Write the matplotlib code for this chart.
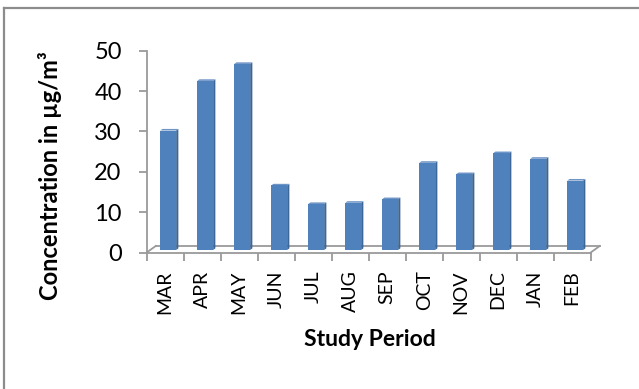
import matplotlib
matplotlib.use("Agg")
import matplotlib.pyplot as plt
from matplotlib.transforms import ScaledTranslation
from matplotlib.patches import Polygon
from matplotlib.lines import Line2D

months = ["MAR", "APR", "MAY", "JUN", "JUL", "AUG", "SEP", "OCT", "NOV", "DEC", "JAN", "FEB"]
concentration = [29.6, 41.9, 46.1, 16.0, 11.4, 11.7, 12.6, 21.6, 18.8, 24.0, 22.6, 17.2]
y_ticks = [0, 10, 20, 30, 40, 50]

W_PX, H_PX, DPI = 639, 389, 100
plt.rcParams["font.family"] = ["Lato", "DejaVu Sans"]

fig = plt.figure(figsize=(W_PX / DPI, H_PX / DPI), dpi=DPI)
fig.patch.set_facecolor("white")

# plot area in pixels
x0, x1 = 146.7, 590.7
y_zero, y_top = 252.5, 50.7
ax = fig.add_axes([x0 / W_PX, 1 - y_zero / H_PX, (x1 - x0) / W_PX, (y_zero - y_top) / H_PX])
ax.set_xlim(0, len(months))
ax.set_ylim(0, 50)
ax.patch.set_alpha(0)

grey = "#9a9a9a"
for s in ["top", "right"]:
    ax.spines[s].set_visible(False)
ax.spines["left"].set_color(grey)
ax.spines["bottom"].set_color(grey)
ax.spines["left"].set_linewidth(1.3)
ax.spines["bottom"].set_linewidth(1.3)

ax.set_yticks(y_ticks)
ax.tick_params(axis="y", length=6, width=1.3, color=grey, pad=12, labelsize=17)

n = len(months)
ax.set_xticks(range(n + 1))
ax.set_xticklabels([""] * (n + 1))
ax.set_xticks([i + 0.5 for i in range(n)], minor=True)
ax.set_xticklabels(months, minor=True, rotation=90, fontsize=14)
ax.tick_params(axis="x", which="major", length=6, width=1.3, color=grey)
ax.tick_params(axis="x", which="minor", length=0, pad=13)

def shift(dx, dy):
    return ax.transData + ScaledTranslation(dx / DPI, dy / DPI, fig.dpi_scale_trans)

# floor of the 3-D plot
fdx, fdy = 9, 6.5
back = shift(fdx, fdy)
ax.add_line(Line2D([0, n], [0, 0], transform=back, color=grey, lw=1.3, clip_on=False))
for xe in (0, n):
    # diagonal edge linking front and back of the floor
    p0 = ax.transData.transform((xe, 0))
    p1 = back.transform((xe, 0))
    fig.add_artist(Line2D([p0[0] / W_PX, p1[0] / W_PX], [p0[1] / H_PX, p1[1] / H_PX],
                          transform=fig.transFigure, color=grey, lw=1.3))

# columns with a thin side and top face
bw = 0.43
face = shift(3.0, 2.5)
depth_dx, depth_dy = 2.2, 1.6
to_fig = lambda pts: [(p[0] / W_PX, p[1] / H_PX) for p in pts]
for i, v in enumerate(concentration):
    left = i + 0.5 - bw / 2
    right = i + 0.5 + bw / 2
    fr = face.transform([(left, 0), (right, 0), (right, v), (left, v)])
    side = [fr[1], (fr[1][0] + depth_dx, fr[1][1] + depth_dy),
            (fr[2][0] + depth_dx, fr[2][1] + depth_dy), fr[2]]
    top = [fr[3], fr[2], (fr[2][0] + depth_dx, fr[2][1] + depth_dy),
           (fr[3][0] + depth_dx, fr[3][1] + depth_dy)]
    fig.add_artist(Polygon(to_fig(side), closed=True, transform=fig.transFigure,
                           facecolor="#3d6796", edgecolor="none"))
    fig.add_artist(Polygon(to_fig(top), closed=True, transform=fig.transFigure,
                           facecolor="#6f94c6", edgecolor="none"))
    fig.add_artist(Polygon(to_fig(fr), closed=True, transform=fig.transFigure,
                           facecolor="#4f81bd", edgecolor="none"))

# axis titles
fig.text(50 / W_PX, 1 - 176 / H_PX, "Concentration in µg/m³", rotation=90,
         ha="center", va="center", fontsize=17, fontweight="bold")
fig.text(370 / W_PX, 1 - 346 / H_PX, "Study Period", ha="center", va="baseline",
         fontsize=16.5, fontweight="bold")

# chart frame
fig.add_artist(Line2D([4 / W_PX, 4 / W_PX], [0, 1 - 8 / H_PX], transform=fig.transFigure,
                      color="#8c8c8c", lw=1.6))
fig.add_artist(Line2D([4 / W_PX, 1], [1 - 8 / H_PX, 1 - 8 / H_PX], transform=fig.transFigure,
                      color="#8c8c8c", lw=1.6))

fig.savefig("out.png", dpi=DPI)
